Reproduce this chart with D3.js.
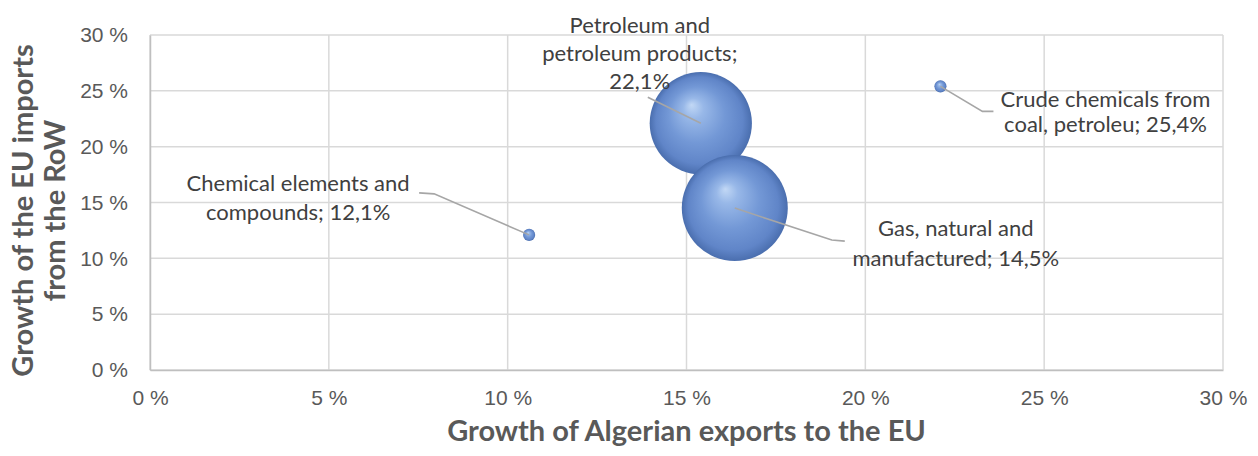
<!DOCTYPE html>
<html><head><meta charset="utf-8"><title>Growth of Algerian exports vs EU imports</title>
<style>
    body { margin: 0; background: #ffffff; }
    svg { display: block; font-family: Lato, 'Open Sans', sans-serif; }
    .tick text { fill: #595959; font-size: 21px; }
    .axis-title { fill: #595959; font-size: 29px; font-weight: bold; }
    .data-label { fill: #404040; font-size: 22px; }
</style>
</head>
<body>
<svg id="chart" width="1258" height="456"></svg>
<script src="https://d3js.org/d3.v7.min.js"></script>
<script>
    // data
    const products = ["Chemical elements and compounds", "Crude chemicals from coal, petroleu", "Petroleum and petroleum products", "Gas, natural and manufactured"];
    const exportGrowth = [10.6, 22.1, 15.4, 16.35];
    const importGrowth = [12.1, 25.4, 22.1, 14.5];
    const bubbleSize = [1.3, 1.3, 93, 100];
    const labelLines = [
        ["Chemical elements and", "compounds; 12,1%"],
        ["Crude chemicals from", "coal, petroleu; 25,4%"],
        ["Petroleum and", "petroleum products;", "22,1%"],
        ["Gas, natural and", "manufactured; 14,5%"]
    ];
    const xTicks = [0, 5, 10, 15, 20, 25, 30];
    const yTicks = [0, 5, 10, 15, 20, 25, 30];

    // label placement, px relative to bubble centre
    const labelOffset = [[-231, -52], [165, 13], [-61, -98], [221, 20]];
    const labelLineHeight = [29, 25, 28, 30];
    const leaderPts = [
        [[-95, -41], [-110, -42]],
        [[42, 25], [53, 25]],
        [[-53, -26]],
        [[97, 32], [110, 33]]
    ];

    const margin = {top: 35, right: 35, bottom: 86, left: 150};
    const W = 1258, H = 456;
    const width = W - margin.left - margin.right;
    const height = H - margin.top - margin.bottom;

    const svg = d3.select("#chart");
    const defs = svg.append("defs");
    const grad = defs.append("radialGradient")
        .attr("id", "ball")
        .attr("cx", "0.5").attr("cy", "0.5").attr("r", "0.5")
        .attr("fx", "0.41").attr("fy", "0.32");
    [[0, "#c2d8f5"], [0.2, "#98b8e8"], [0.55, "#7398d6"], [0.85, "#6085c8"], [1, "#4a6eae"]]
        .forEach(s => grad.append("stop").attr("offset", s[0]).attr("stop-color", s[1]));

    const g = svg.append("g").attr("transform", `translate(${margin.left},${margin.top})`);

    const x = d3.scaleLinear().domain([0, 30]).range([0, width]);
    const y = d3.scaleLinear().domain([0, 30]).range([height, 0]);
    const r = d3.scaleSqrt().domain([0, 100]).range([0, 53]);

    // grid
    g.append("g").selectAll("line").data(xTicks).join("line")
        .attr("x1", d => x(d)).attr("x2", d => x(d))
        .attr("y1", 0).attr("y2", height)
        .attr("stroke", "#d9d9d9").attr("stroke-width", 1.5);
    g.append("g").selectAll("line").data(yTicks).join("line")
        .attr("x1", 0).attr("x2", width)
        .attr("y1", d => y(d)).attr("y2", d => y(d))
        .attr("stroke", "#d9d9d9").attr("stroke-width", 1.5);

    const xAxis = g.append("g")
        .attr("transform", `translate(0,${height})`)
        .call(d3.axisBottom(x).tickValues(xTicks).tickSize(0).tickPadding(20).tickFormat(d => d + " %"));
    const yAxis = g.append("g")
        .call(d3.axisLeft(y).tickValues(yTicks).tickSize(0).tickPadding(22).tickFormat(d => d + " %"));
    xAxis.select(".domain").attr("stroke", "#bfbfbf").attr("stroke-width", 1.5);
    yAxis.select(".domain").attr("stroke", "#bfbfbf").attr("stroke-width", 1.5);
    g.selectAll(".tick text").attr("font-family", null).attr("font-size", null);

    // bubbles
    const idx = d3.range(products.length);
    g.append("g").selectAll("circle").data(idx).join("circle")
        .attr("cx", i => x(exportGrowth[i]))
        .attr("cy", i => y(importGrowth[i]))
        .attr("r", i => r(bubbleSize[i]))
        .attr("fill", "url(#ball)");

    // leader lines
    g.append("g").selectAll("polyline").data(idx).join("polyline")
        .attr("points", i => {
            const cx = x(exportGrowth[i]), cy = y(importGrowth[i]);
            const pts = [[cx, cy]].concat(leaderPts[i].map(p => [cx + p[0], cy + p[1]]));
            return pts.map(p => p.join(",")).join(" ");
        })
        .attr("fill", "none").attr("stroke", "#a6a6a6").attr("stroke-width", 1.6);

    // data labels
    const labels = g.append("g").selectAll("text").data(idx).join("text")
        .attr("class", "data-label")
        .attr("text-anchor", "middle")
        .attr("transform", i => `translate(${x(exportGrowth[i]) + labelOffset[i][0]},${y(importGrowth[i]) + labelOffset[i][1]})`);
    labels.each(function(i) {
        d3.select(this).selectAll("tspan").data(labelLines[i]).join("tspan")
            .attr("x", 0)
            .attr("y", (d, k) => k * labelLineHeight[i])
            .attr("dy", "0.35em")
            .text(d => d);
    });

    // axis titles
    svg.append("text").attr("class", "axis-title")
        .attr("text-anchor", "middle")
        .attr("x", margin.left + width / 2).attr("y", 441)
        .text("Growth of Algerian exports to the EU");
    const yt = svg.append("text").attr("class", "axis-title")
        .attr("text-anchor", "middle")
        .attr("transform", `translate(0,${margin.top + height / 2 + 8}) rotate(-90)`);
    yt.append("tspan").attr("x", 0).attr("y", 33).text("Growth of the EU imports");
    yt.append("tspan").attr("x", 0).attr("y", 65).text("from the RoW");
</script>
</body>
</html>
